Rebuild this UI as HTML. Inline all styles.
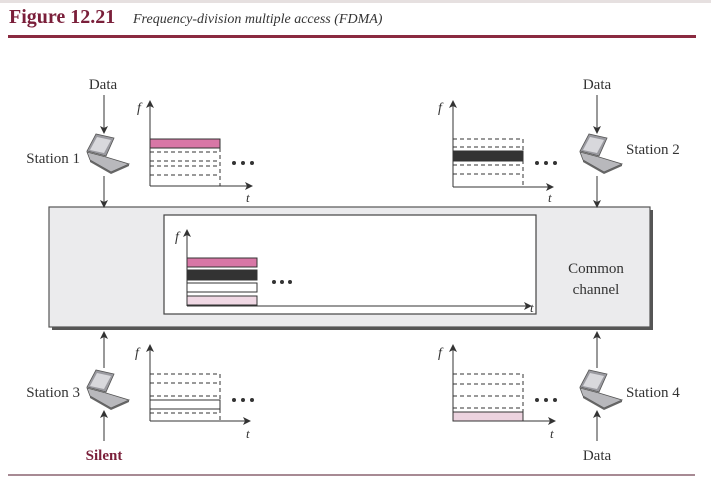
<!DOCTYPE html>
<html><head><style>
html,body{margin:0;padding:0;background:#fff;}
svg{display:block;}
text{font-family:"Liberation Serif",serif;fill:#333;}
</style></head><body>
<svg width="711" height="481" viewBox="0 0 711 481" xmlns="http://www.w3.org/2000/svg">
<defs>
<marker id="ah" markerWidth="8" markerHeight="8" refX="7" refY="4" orient="auto" markerUnits="userSpaceOnUse">
<path d="M0,0 L8,4 L0,8 L2,4 z" fill="#333"/></marker>
<g id="lap">
<polygon points="0,17 9,0 27,4 19,22" fill="#9a9aa0" stroke="#555" stroke-width="0.8"/>
<polygon points="3,16 10,3 24,6 17,19" fill="#d8d8dc"/>
<polygon points="0,18 19,23 42,30 24,38 3,26" fill="#b8b8bc" stroke="#555" stroke-width="0.8"/>
<polygon points="24,38 42,30 42,32 24,40 3,28 3,26" fill="#666"/>
</g>
</defs>
<rect x="0" y="0" width="711" height="3" fill="#e6e0e0"/>
<text x="9" y="23" style="font-weight:bold;font-size:20px;fill:#7a1f3a">Figure 12.21</text>
<text x="133" y="23" style="font-style:italic;font-size:14px;fill:#333">Frequency-division multiple access (FDMA)</text>
<rect x="8" y="35" width="688" height="3" fill="#8a2a40"/>
<line x1="8" y1="475" x2="695" y2="475" stroke="#8a6470" stroke-width="1.5"/>

<!-- channel -->
<rect x="52" y="210" width="601" height="120" fill="#555"/>
<rect x="49" y="207" width="601" height="120" fill="#ebebed" stroke="#555" stroke-width="1.2"/>
<rect x="164" y="215" width="372" height="99" fill="#fff" stroke="#444" stroke-width="1.2"/>
<text x="596" y="273" text-anchor="middle" style="font-size:15px">Common</text>
<text x="596" y="294" text-anchor="middle" style="font-size:15px">channel</text>
<line x1="187" y1="306" x2="187" y2="230" stroke="#333" marker-end="url(#ah)"/>
<line x1="187" y1="306" x2="531" y2="306" stroke="#333" marker-end="url(#ah)"/>
<text x="175" y="241" style="font-style:italic;font-size:14px">f</text>
<text x="530" y="312" style="font-style:italic;font-size:13px">t</text>
<rect x="187" y="258" width="70" height="9" fill="#d877a6" stroke="#333"/>
<rect x="187" y="270" width="70" height="10" fill="#333" stroke="#333"/>
<rect x="187" y="283" width="70" height="9" fill="#fff" stroke="#333"/>
<rect x="187" y="296" width="70" height="9" fill="#f0d8e4" stroke="#333"/>
<g fill="#333"><circle cx="274" cy="282" r="2"/><circle cx="282" cy="282" r="2"/><circle cx="290" cy="282" r="2"/></g>

<!-- station 1 -->
<text x="103" y="89" text-anchor="middle" style="font-size:15px">Data</text>
<line x1="104" y1="95" x2="104" y2="133" stroke="#333" marker-end="url(#ah)"/>
<use href="#lap" x="87" y="134"/>
<text x="80" y="163" text-anchor="end" style="font-size:15px">Station 1</text>
<line x1="104" y1="176" x2="104" y2="207" stroke="#333" marker-end="url(#ah)"/>
<line x1="150" y1="186" x2="150" y2="101" stroke="#333" marker-end="url(#ah)"/>
<line x1="150" y1="186" x2="252" y2="186" stroke="#333" marker-end="url(#ah)"/>
<text x="137" y="112" style="font-style:italic;font-size:14px">f</text>
<text x="246" y="202" style="font-style:italic;font-size:13px">t</text>
<rect x="150" y="139" width="70" height="9" fill="#d877a6" stroke="#333"/>
<g stroke="#333" stroke-dasharray="4,3"><line x1="150" y1="152" x2="220" y2="152"/><line x1="150" y1="161" x2="220" y2="161"/><line x1="150" y1="166" x2="220" y2="166"/><line x1="150" y1="175" x2="220" y2="175"/><line x1="220" y1="148" x2="220" y2="186"/></g>
<g fill="#333"><circle cx="234" cy="163" r="2"/><circle cx="243" cy="163" r="2"/><circle cx="252" cy="163" r="2"/></g>

<!-- station 2 -->
<text x="597" y="89" text-anchor="middle" style="font-size:15px">Data</text>
<line x1="597" y1="95" x2="597" y2="133" stroke="#333" marker-end="url(#ah)"/>
<use href="#lap" x="580" y="134"/>
<text x="626" y="154" style="font-size:15px">Station 2</text>
<line x1="597" y1="176" x2="597" y2="207" stroke="#333" marker-end="url(#ah)"/>
<line x1="453" y1="187" x2="453" y2="101" stroke="#333" marker-end="url(#ah)"/>
<line x1="453" y1="187" x2="553" y2="187" stroke="#333" marker-end="url(#ah)"/>
<text x="438" y="112" style="font-style:italic;font-size:14px">f</text>
<text x="548" y="202" style="font-style:italic;font-size:13px">t</text>
<rect x="453" y="151" width="70" height="10" fill="#333" stroke="#333"/>
<g stroke="#333" stroke-dasharray="4,3"><line x1="453" y1="139" x2="523" y2="139"/><line x1="453" y1="147" x2="523" y2="147"/><line x1="453" y1="165" x2="523" y2="165"/><line x1="453" y1="174" x2="523" y2="174"/><line x1="523" y1="139" x2="523" y2="187"/></g>
<g fill="#333"><circle cx="537" cy="163" r="2"/><circle cx="546" cy="163" r="2"/><circle cx="555" cy="163" r="2"/></g>

<!-- station 3 -->
<line x1="104" y1="368" x2="104" y2="332" stroke="#333" marker-end="url(#ah)"/>
<use href="#lap" x="87" y="370"/>
<text x="80" y="397" text-anchor="end" style="font-size:15px">Station 3</text>
<line x1="104" y1="441" x2="104" y2="411" stroke="#333" marker-end="url(#ah)"/>
<text x="104" y="460" text-anchor="middle" style="font-size:15px;font-weight:bold;fill:#7a1f3a">Silent</text>
<line x1="150" y1="421" x2="150" y2="345" stroke="#333" marker-end="url(#ah)"/>
<line x1="150" y1="421" x2="250" y2="421" stroke="#333" marker-end="url(#ah)"/>
<text x="135" y="357" style="font-style:italic;font-size:14px">f</text>
<text x="246" y="438" style="font-style:italic;font-size:13px">t</text>
<rect x="150" y="400" width="70" height="9" fill="#fff" stroke="#333"/>
<g stroke="#333" stroke-dasharray="4,3"><line x1="150" y1="374" x2="220" y2="374"/><line x1="150" y1="383" x2="220" y2="383"/><line x1="150" y1="396" x2="220" y2="396"/><line x1="150" y1="413" x2="220" y2="413"/><line x1="220" y1="374" x2="220" y2="421"/></g>
<g fill="#333"><circle cx="234" cy="400" r="2"/><circle cx="243" cy="400" r="2"/><circle cx="252" cy="400" r="2"/></g>

<!-- station 4 -->
<line x1="597" y1="368" x2="597" y2="332" stroke="#333" marker-end="url(#ah)"/>
<use href="#lap" x="580" y="370"/>
<text x="626" y="397" style="font-size:15px">Station 4</text>
<line x1="597" y1="441" x2="597" y2="411" stroke="#333" marker-end="url(#ah)"/>
<text x="597" y="460" text-anchor="middle" style="font-size:15px">Data</text>
<line x1="453" y1="421" x2="453" y2="345" stroke="#333" marker-end="url(#ah)"/>
<line x1="453" y1="421" x2="555" y2="421" stroke="#333" marker-end="url(#ah)"/>
<text x="438" y="357" style="font-style:italic;font-size:14px">f</text>
<text x="550" y="438" style="font-style:italic;font-size:13px">t</text>
<rect x="453" y="412" width="70" height="9" fill="#ecd3df" stroke="#333"/>
<g stroke="#333" stroke-dasharray="4,3"><line x1="453" y1="374" x2="523" y2="374"/><line x1="453" y1="384" x2="523" y2="384"/><line x1="453" y1="396" x2="523" y2="396"/><line x1="453" y1="408" x2="523" y2="408"/><line x1="523" y1="374" x2="523" y2="412"/></g>
<g fill="#333"><circle cx="537" cy="400" r="2"/><circle cx="546" cy="400" r="2"/><circle cx="555" cy="400" r="2"/></g>
</svg>
</body></html>
